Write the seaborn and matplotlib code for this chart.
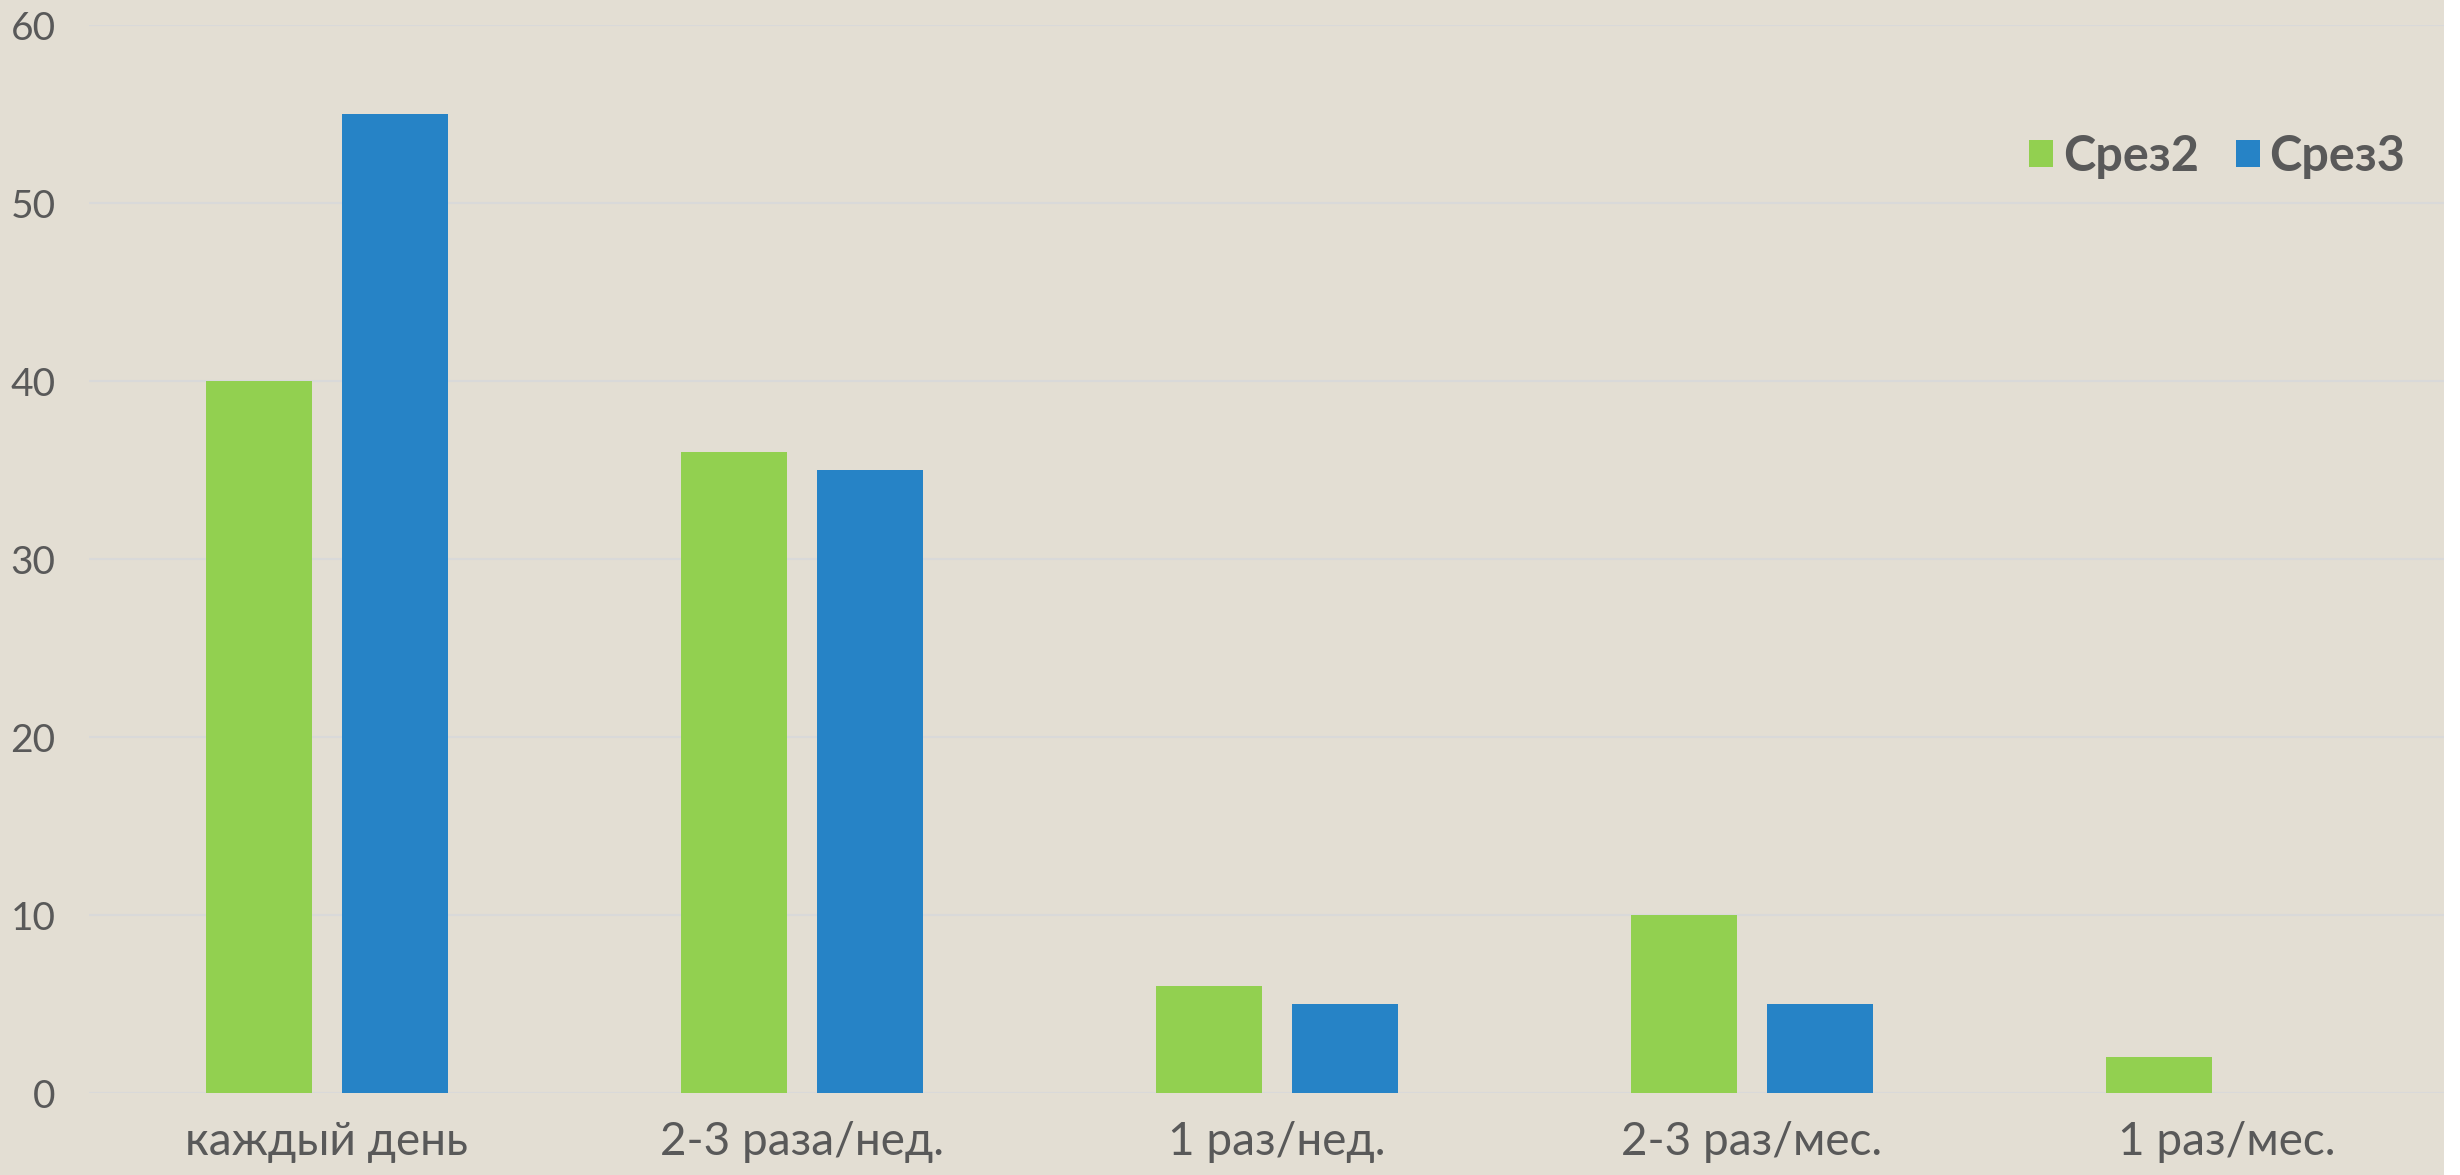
import matplotlib
matplotlib.use("Agg")
import matplotlib.pyplot as plt
import seaborn as sns
import pandas as pd
from matplotlib.patches import Rectangle

categories = ["каждый день", "2-3 раза/нед.", "1 раз/нед.", "2-3 раз/мес.", "1 раз/мес."]
series_names = ["Срез2", "Срез3"]
srez2 = [40, 36, 6, 10, 2]
srez3 = [55, 35, 5, 5, 0]
yticks = [0, 10, 20, 30, 40, 50, 60]

colors = ["#92D050", "#2683C6"]
bg = "#E3DED3"
txt = "#595959"

df = pd.DataFrame({
    "cat": categories * 2,
    "series": [series_names[0]] * 5 + [series_names[1]] * 5,
    "value": srez2 + srez3,
})

sns.set_theme(style="white")
plt.rcParams["font.family"] = ["Lato", "DejaVu Sans"]

fig = plt.figure(figsize=(24.6, 11.75), dpi=100, facecolor=bg)
fig.patches.append(Rectangle((2444 / 2460, 0), 1 - 2444 / 2460, 1,
                             transform=fig.transFigure, facecolor="white",
                             edgecolor="none", zorder=0))
ax = fig.add_axes([89 / 2460, 82 / 1175, (2460 - 89) / 2460, 1068 / 1175])
ax.set_facecolor("none")

sns.barplot(data=df, x="cat", y="value", hue="series", palette=colors,
            order=categories, hue_order=series_names, width=0.572, gap=0.22,
            ax=ax, errorbar=None, linewidth=0, saturation=1)

ax.set_xlim(-0.5, 4.49)
ax.set_ylim(0, 60)
ax.set_yticks(yticks)
ax.set_yticklabels([str(t) for t in yticks])
ax.grid(axis="y", color="#D9D9D9", linewidth=1.5, zorder=0)
ax.set_axisbelow(True)
for s in ax.spines.values():
    s.set_visible(False)
ax.tick_params(axis="both", length=0, colors=txt)
ax.tick_params(axis="y", labelsize=28, pad=24)
ax.tick_params(axis="x", labelsize=33, pad=20)
for lab in ax.get_xticklabels() + ax.get_yticklabels():
    lab.set_color(txt)
ax.set_xlabel("")
ax.set_ylabel("")

handles, labels = ax.get_legend_handles_labels()
leg = ax.legend(handles, labels, loc="center right", bbox_to_anchor=(0.977, 0.877),
                ncol=2, frameon=False, handlelength=0.5, handleheight=0.5,
                handletextpad=0.2, columnspacing=0.75, borderpad=0, borderaxespad=0,
                prop={"size": 35, "weight": "bold"})
for t in leg.get_texts():
    t.set_color(txt)

fig.savefig("out.png", dpi=100, facecolor=bg)
